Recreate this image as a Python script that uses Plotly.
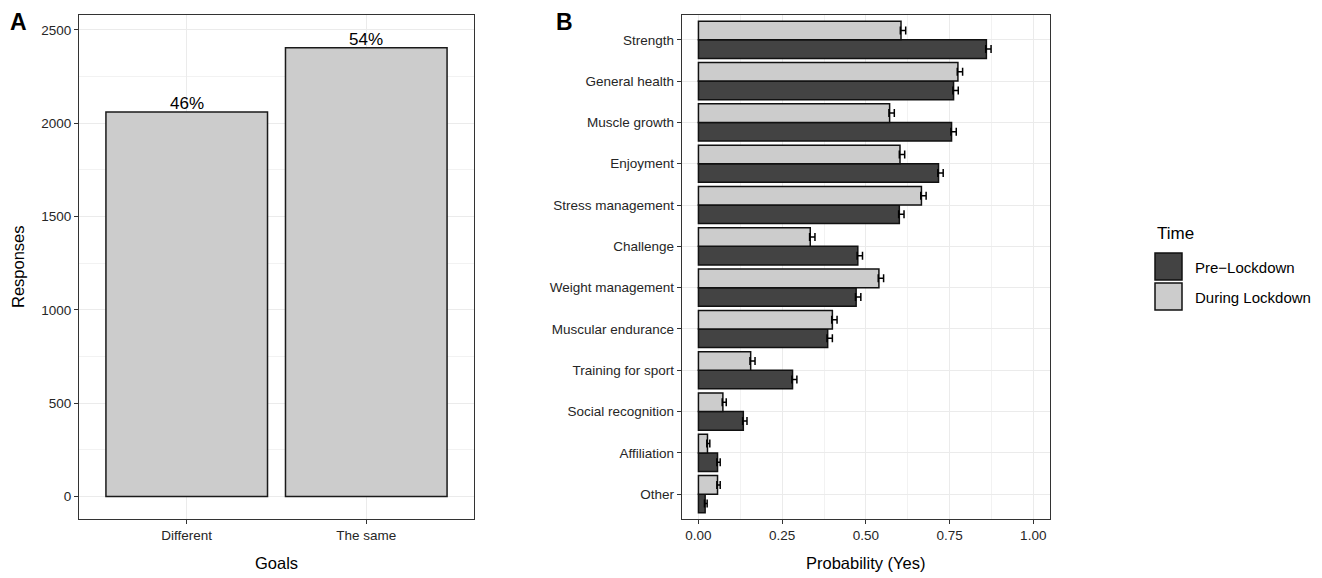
import plotly.graph_objects as go

# ---------------- Data ----------------
goals = ["Different", "The same"]
responses = [2060, 2405]
goal_labels = ["46%", "54%"]

motives = ["Strength", "General health", "Muscle growth", "Enjoyment",
           "Stress management", "Challenge", "Weight management",
           "Muscular endurance", "Training for sport", "Social recognition",
           "Affiliation", "Other"]
pre_lockdown = [0.860, 0.762, 0.756, 0.717, 0.600, 0.476, 0.471, 0.386,
                0.281, 0.134, 0.057, 0.020]
during_lockdown = [0.605, 0.775, 0.571, 0.602, 0.666, 0.334, 0.539, 0.400,
                   0.156, 0.073, 0.027, 0.057]
pre_err_plus = [0.014, 0.014, 0.014, 0.014, 0.014, 0.014, 0.014, 0.014,
                0.013, 0.011, 0.008, 0.006]
pre_err_minus = [0.002, 0.002, 0.002, 0.002, 0.002, 0.002, 0.002, 0.002,
                 0.002, 0.002, 0.002, 0.002]
during_err_plus = [0.014, 0.014, 0.014, 0.014, 0.014, 0.014, 0.014, 0.014,
                   0.013, 0.010, 0.007, 0.008]
during_err_minus = [0.002, 0.002, 0.002, 0.002, 0.002, 0.002, 0.002, 0.002,
                    0.002, 0.002, 0.002, 0.002]

series_names = ["Pre\u2212Lockdown", "During Lockdown"]
dark = "#434343"
light = "#CCCCCC"

W, H = 1322, 578
FONT = "Liberation Sans"

fig = go.Figure()

# Panel A
fig.add_trace(go.Bar(
    x=goals, y=responses,
    marker=dict(color=light, line=dict(color="#1a1a1a", width=1.5)),
    showlegend=False, xaxis="x", yaxis="y"))
for g, r, lab in zip(goals, responses, goal_labels):
    fig.add_annotation(x=g, y=r, xref="x", yref="y", text=lab, showarrow=False,
                       yanchor="bottom", yshift=-3,
                       font=dict(size=17, color="#000000", family=FONT))

# Panel B
fig.add_trace(go.Bar(
    y=motives, x=pre_lockdown, orientation="h", name=series_names[0],
    marker=dict(color=dark, line=dict(color="#111111", width=1.5)),
    error_x=dict(type="data", symmetric=False, array=pre_err_plus,
                 arrayminus=pre_err_minus, color="#000000", thickness=1.5, width=4),
    showlegend=False, xaxis="x2", yaxis="y2"))
fig.add_trace(go.Bar(
    y=motives, x=during_lockdown, orientation="h", name=series_names[1],
    marker=dict(color=light, line=dict(color="#111111", width=1.5)),
    error_x=dict(type="data", symmetric=False, array=during_err_plus,
                 arrayminus=during_err_minus, color="#000000", thickness=1.5, width=4),
    showlegend=False, xaxis="x2", yaxis="y2"))

ydom = [1 - 519 / H, 1 - 15 / H]
axis_common = dict(
    showline=True, mirror=True, linecolor="#333333", linewidth=1,
    ticks="outside", ticklen=4, tickcolor="#333333", tickwidth=1,
    gridcolor="#EBEBEB", gridwidth=1, zeroline=False,
    tickfont=dict(size=13.5, color="#262626", family=FONT),
)

fig.update_layout(
    width=W, height=H,
    margin=dict(l=0, r=0, t=0, b=0),
    paper_bgcolor="white", plot_bgcolor="white",
    font=dict(family=FONT, color="#000000"),
    barmode="group", bargap=0.1, bargroupgap=0,
    xaxis=dict(domain=[79 / W, 474 / W], type="category",
               range=[-0.6, 1.6], **axis_common),
    yaxis=dict(domain=ydom, range=[-120, 2580], dtick=500,
               minor=dict(dtick=250, showgrid=True, gridcolor="#F2F2F2", gridwidth=0.6),
               **axis_common),
    xaxis2=dict(domain=[681.7 / W, 1050 / W], range=[-0.05, 1.05],
                tickvals=[0, 0.25, 0.5, 0.75, 1.0],
                ticktext=["0.00", "0.25", "0.50", "0.75", "1.00"],
                minor=dict(tickvals=[0.125, 0.375, 0.625, 0.875], showgrid=True,
                           gridcolor="#F2F2F2", gridwidth=0.6, ticks=""),
                anchor="y2", **axis_common),
    yaxis2=dict(domain=ydom, type="category",
                categoryorder="array", categoryarray=motives[::-1],
                range=[-0.6, len(motives) - 0.4], anchor="x2", **axis_common),
    showlegend=False,
)

def px(x):
    return x / W

def py(y):
    return 1 - y / H

annots = [
    dict(text="Goals", x=px(276.5), y=py(563), font=dict(size=16.5)),
    dict(text="Responses", x=px(18), y=py(267), textangle=-90, font=dict(size=16.5)),
    dict(text="Probability (Yes)", x=px(866), y=py(563), font=dict(size=16.5)),
    dict(text="<b>A</b>", x=px(18), y=py(22), font=dict(size=23)),
    dict(text="<b>B</b>", x=px(564), y=py(22), font=dict(size=23)),
    dict(text="Time", x=px(1155), y=py(233), xanchor="left", font=dict(size=17)),
    dict(text=series_names[0], x=px(1193), y=py(267), xanchor="left", font=dict(size=15)),
    dict(text=series_names[1], x=px(1193), y=py(297), xanchor="left", font=dict(size=15)),
]
for a in annots:
    a.setdefault("xanchor", "center")
    fig.add_annotation(xref="paper", yref="paper", showarrow=False,
                       yanchor="middle", font_family=FONT, font_color="#000000",
                       **{k: v for k, v in a.items()})

for (y0, y1, col) in [(253, 280, dark), (283, 310, light)]:
    fig.add_shape(type="rect", xref="paper", yref="paper",
                  x0=px(1155), x1=px(1182), y0=py(y1), y1=py(y0),
                  fillcolor=col, line=dict(color="#111111", width=1.5))

fig.write_html("out.html", config={"displayModeBar": False},
               post_script="document.body.style.margin='0';document.body.style.overflow='hidden';")
